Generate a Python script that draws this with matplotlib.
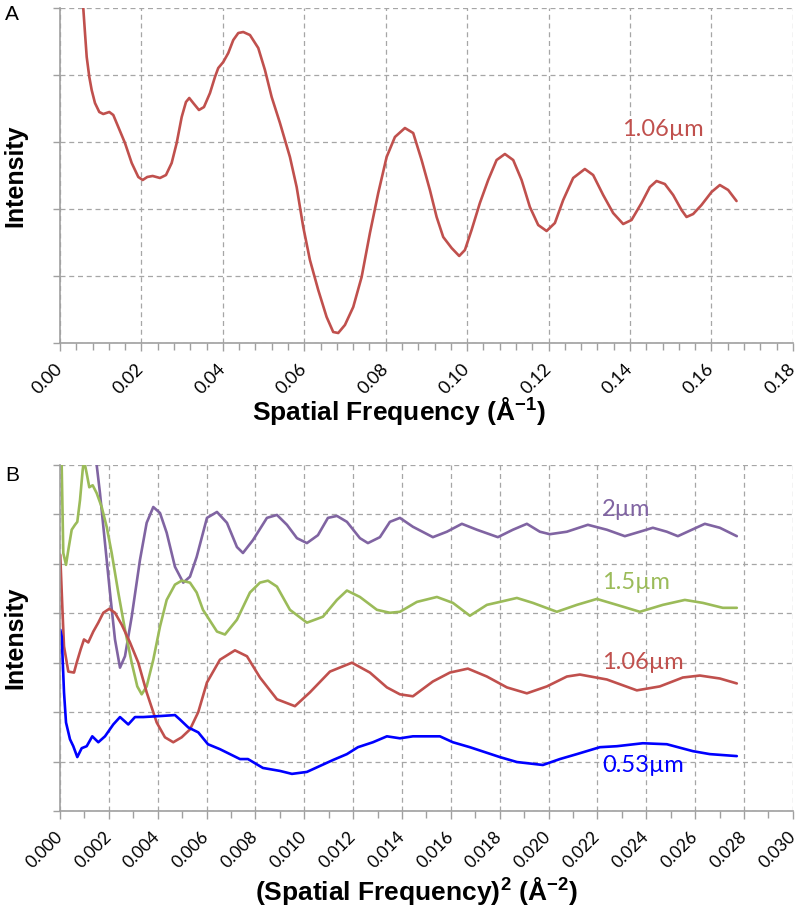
import matplotlib
matplotlib.use("Agg")
import matplotlib.pyplot as plt
from matplotlib import ticker

plt.rcParams["mathtext.fontset"] = "custom"
plt.rcParams["mathtext.rm"] = "Liberation Sans"
plt.rcParams["mathtext.bf"] = "Liberation Sans:bold"

# Panel A: 1.06 um, intensity vs spatial frequency (1/A), grid units 0..5
a_x = [0.0056, 0.00572, 0.00614, 0.00656, 0.00720, 0.00778, 0.00859, 0.00965, 0.01063,
       0.01211, 0.01309, 0.01432, 0.01596, 0.01761, 0.01923, 0.02031, 0.02144, 0.02276,
       0.02456, 0.02603, 0.02743, 0.02866, 0.02989, 0.03094, 0.03175, 0.03273, 0.03413,
       0.03536, 0.03684, 0.03806, 0.03887, 0.04010, 0.04133, 0.04256, 0.04379, 0.04501,
       0.04666, 0.04870, 0.05034, 0.05199, 0.05403, 0.05648, 0.05813, 0.05975, 0.06139,
       0.06343, 0.06549, 0.06711, 0.06834, 0.06999, 0.07203, 0.07409, 0.07613, 0.07817,
       0.08023, 0.08227, 0.08472, 0.08676, 0.08882, 0.09086, 0.09251, 0.09413, 0.09619,
       0.09806, 0.09946, 0.10110, 0.10314, 0.10518, 0.10724, 0.10928, 0.11132, 0.11338,
       0.11542, 0.11746, 0.11952, 0.12156, 0.12360, 0.12605, 0.12892, 0.13096, 0.13342,
       0.13587, 0.13833, 0.14039, 0.14285, 0.14489, 0.14653, 0.14857, 0.15061, 0.15267,
       0.15390, 0.15552, 0.15758, 0.16004, 0.16208, 0.16412, 0.16618]
a_y = [5.2, 4.996, 4.627, 4.269, 3.970, 3.776, 3.582, 3.448, 3.418,
       3.448, 3.403, 3.224, 2.985, 2.687, 2.478, 2.433, 2.478, 2.493,
       2.463, 2.507, 2.687, 2.985, 3.373, 3.597, 3.657, 3.582, 3.478,
       3.522, 3.731, 3.970, 4.104, 4.194, 4.328, 4.522, 4.627, 4.642,
       4.597, 4.403, 4.075, 3.672, 3.284, 2.776, 2.328, 1.731, 1.239,
       0.791, 0.388, 0.164, 0.149, 0.269, 0.537, 0.985, 1.642, 2.239,
       2.776, 3.075, 3.209, 3.134, 2.731, 2.284, 1.881, 1.582, 1.418,
       1.299, 1.388, 1.687, 2.090, 2.433, 2.731, 2.821, 2.731, 2.433,
       2.030, 1.761, 1.672, 1.791, 2.134, 2.463, 2.597, 2.507, 2.209,
       1.940, 1.776, 1.836, 2.090, 2.328, 2.418, 2.373, 2.209, 1.985,
       1.881, 1.925, 2.060, 2.254, 2.358, 2.284, 2.119]

# Panel B: intensity vs squared spatial frequency (1/A^2), grid units 0..7
p_x = [0.001432, 0.001502, 0.001637, 0.001842, 0.002046, 0.002251, 0.002456, 0.00266,
       0.002935, 0.003274, 0.003548, 0.003819, 0.004093, 0.004367, 0.004707, 0.005046,
       0.005321, 0.005595, 0.006016, 0.006426, 0.006835, 0.007244, 0.00749, 0.007899,
       0.008472, 0.008881, 0.009291, 0.0097, 0.010109, 0.010559, 0.010969, 0.011337,
       0.011746, 0.012278, 0.012606, 0.013097, 0.013506, 0.013916, 0.014448, 0.015266,
       0.015839, 0.016453, 0.017067, 0.017926, 0.01854, 0.019113, 0.019645, 0.020055,
       0.020751, 0.02161, 0.022388, 0.023124, 0.023738, 0.02427, 0.024843, 0.025294,
       0.025867, 0.026399, 0.027013, 0.027708]
p_y = [7.5, 7.0, 6.43, 5.42, 4.42, 3.47, 2.90, 3.13,
       3.93, 5.08, 5.83, 6.15, 6.03, 5.63, 4.94, 4.62,
       4.74, 5.14, 5.93, 6.05, 5.83, 5.34, 5.22, 5.48,
       5.93, 5.99, 5.79, 5.52, 5.42, 5.58, 5.93, 5.97,
       5.85, 5.52, 5.42, 5.54, 5.85, 5.93, 5.75, 5.54,
       5.65, 5.81, 5.69, 5.54, 5.69, 5.81, 5.65, 5.60,
       5.65, 5.79, 5.69, 5.56, 5.65, 5.73, 5.65, 5.56,
       5.69, 5.81, 5.73, 5.56]

g_x = [0.00001, 0.00007, 0.000135, 0.000246, 0.00034, 0.000479, 0.000614, 0.000708,
       0.000819, 0.000929, 0.000982, 0.001093, 0.001199, 0.001338, 0.001502, 0.001707,
       0.001911, 0.002116, 0.002386, 0.00266, 0.002935, 0.003164, 0.003344, 0.003548,
       0.003819, 0.004093, 0.004367, 0.004707, 0.004981, 0.005321, 0.005595, 0.005853,
       0.006426, 0.006753, 0.007244, 0.007776, 0.008186, 0.008513, 0.008881, 0.009413,
       0.010109, 0.010764, 0.011337, 0.011746, 0.012278, 0.012974, 0.013506, 0.013916,
       0.014611, 0.01543, 0.016085, 0.01678, 0.017476, 0.018008, 0.018704, 0.019359,
       0.020341, 0.02116, 0.021978, 0.022797, 0.023738, 0.02468, 0.02558, 0.026317,
       0.027135, 0.027708]
g_y = [7.5, 6.96, 5.22, 4.98, 5.28, 5.69, 5.79, 5.85,
       6.29, 6.90, 7.10, 6.83, 6.55, 6.59, 6.43, 6.15,
       5.75, 5.22, 4.42, 3.67, 3.00, 2.52, 2.36, 2.52,
       3.06, 3.73, 4.27, 4.58, 4.66, 4.62, 4.42, 4.07,
       3.63, 3.57, 3.87, 4.42, 4.62, 4.66, 4.54, 4.07,
       3.81, 3.93, 4.27, 4.46, 4.33, 4.07, 4.01, 4.03,
       4.23, 4.33, 4.21, 3.95, 4.17, 4.23, 4.31, 4.21,
       4.03, 4.17, 4.29, 4.17, 4.03, 4.17, 4.27, 4.21,
       4.11, 4.11]

r_x = [0.00001, 0.0001, 0.000164, 0.00034, 0.000573, 0.000683, 0.000847, 0.000982,
       0.001158, 0.001363, 0.001568, 0.001772, 0.002018, 0.002251, 0.002525, 0.002865,
       0.003205, 0.003548, 0.003958, 0.004297, 0.004637, 0.004981, 0.005321, 0.00566,
       0.006016, 0.006548, 0.007162, 0.007654, 0.008186, 0.008881, 0.009618, 0.010232,
       0.011051, 0.011951, 0.012688, 0.013383, 0.013916, 0.014448, 0.015266, 0.015962,
       0.016699, 0.017476, 0.018295, 0.019113, 0.019932, 0.020751, 0.021283, 0.022388,
       0.023615, 0.024557, 0.025498, 0.026194, 0.027013, 0.027708]
r_y = [5.18, 4.07, 3.33, 2.82, 2.80, 3.00, 3.27, 3.47,
       3.41, 3.63, 3.81, 4.01, 4.09, 4.01, 3.77, 3.41,
       3.00, 2.40, 1.79, 1.49, 1.39, 1.49, 1.65, 2.00,
       2.60, 3.06, 3.25, 3.13, 2.70, 2.26, 2.12, 2.40,
       2.82, 3.00, 2.80, 2.50, 2.36, 2.32, 2.62, 2.80,
       2.88, 2.72, 2.50, 2.38, 2.52, 2.72, 2.76, 2.66,
       2.44, 2.52, 2.70, 2.74, 2.68, 2.58]

b_x = [0.00001, 0.00007, 0.000164, 0.000246, 0.000409, 0.000544, 0.000708, 0.000888,
       0.001093, 0.001322, 0.001568, 0.001842, 0.002181, 0.002456, 0.00266, 0.002795,
       0.00307, 0.003409, 0.004093, 0.004707, 0.004911, 0.005251, 0.00566, 0.006057,
       0.006548, 0.007367, 0.007694, 0.008308, 0.009004, 0.009495, 0.010109, 0.010641,
       0.011173, 0.011746, 0.012197, 0.01281, 0.013383, 0.013916, 0.014448, 0.015553,
       0.016085, 0.01678, 0.018008, 0.018704, 0.019768, 0.020464, 0.02116, 0.022101,
       0.022797, 0.023861, 0.024843, 0.025908, 0.026603, 0.027708]
b_y = [3.67, 3.53, 2.40, 1.79, 1.45, 1.31, 1.09, 1.27,
       1.31, 1.51, 1.39, 1.51, 1.75, 1.90, 1.81, 1.75,
       1.90, 1.90, 1.92, 1.94, 1.85, 1.69, 1.59, 1.35,
       1.25, 1.05, 1.05, 0.87, 0.81, 0.75, 0.79, 0.91,
       1.03, 1.15, 1.29, 1.39, 1.51, 1.47, 1.51, 1.51,
       1.39, 1.29, 1.09, 0.99, 0.93, 1.05, 1.15, 1.29,
       1.31, 1.37, 1.35, 1.21, 1.15, 1.11]

series_labels = ["2µm", "1.5µm", "1.06µm", "0.53µm"]
label_y = [6.09, 4.62, 3.0, 0.91]

red = "#C0504D"
purple = "#8064A2"
green = "#9BBB59"
blue = "#0000FF"
grid_c = "#A6A6A6"
spine_c = "#A0A0A0"
tick_font = "Lato"
title_font = "Liberation Sans"


def style_axes(ax, tick_size, pad):
    ax.spines["top"].set_visible(False)
    ax.spines["right"].set_visible(False)
    ax.spines["left"].set_color(spine_c)
    ax.spines["bottom"].set_color(spine_c)
    ax.spines["left"].set_linewidth(1.2)
    ax.spines["bottom"].set_linewidth(1.2)
    ax.grid(True, which="major", color=grid_c, ls=(0, (4, 3)), lw=0.9)
    ax.set_axisbelow(True)
    ax.yaxis.set_major_formatter(ticker.NullFormatter())
    ax.tick_params(axis="both", which="both", color=spine_c, width=1.0)
    ax.tick_params(axis="y", which="major", length=5, direction="out")
    ax.tick_params(axis="x", which="major", length=6, direction="out", pad=pad)
    ax.tick_params(axis="x", which="minor", length=5, direction="out")
    for lab in ax.get_xticklabels():
        lab.set_rotation(45)
        lab.set_ha("right")
        lab.set_va("center")
        lab.set_rotation_mode("anchor")
        lab.set_fontsize(tick_size)
        lab.set_family(tick_font)


fig = plt.figure(figsize=(8, 9.23), dpi=100)

# ---- Panel A ----
ax1 = fig.add_axes([0.075, 0.6284, 0.916, 0.3629])
ax1.plot(a_x, a_y, color=red, lw=1.9, solid_joinstyle="round", solid_capstyle="round")
ax1.set_xlim(0, 0.18)
ax1.set_ylim(0, 5)
ax1.xaxis.set_major_locator(ticker.MultipleLocator(0.02))
ax1.xaxis.set_minor_locator(ticker.MultipleLocator(0.004))
ax1.yaxis.set_major_locator(ticker.MultipleLocator(1))
ax1.xaxis.set_major_formatter(ticker.FormatStrFormatter("%.2f"))
style_axes(ax1, 13, 11)
ax1.set_ylabel("Intensity", fontsize=18, fontweight="bold", family=title_font)
ax1.yaxis.set_label_coords(-0.044, 0.5)
ax1.set_xlabel(r"Spatial Frequency (Å$^{\mathbf{-1}}$)", fontsize=19, fontweight="bold",
               family=title_font)
ax1.xaxis.set_label_coords(0.4625, -0.155)
ax1.text(0.138, 3.18, "1.06µm", color=red, fontsize=17, family=tick_font, ha="left", va="center")
fig.text(0.006, 0.984, "A", fontsize=15, family=title_font, va="center")

# ---- Panel B ----
ax2 = fig.add_axes([0.075, 0.1214, 0.916, 0.3748])
for xs, ys, c in [(p_x, p_y, purple), (g_x, g_y, green), (r_x, r_y, red), (b_x, b_y, blue)]:
    ax2.plot(xs, ys, color=c, lw=1.9, solid_joinstyle="round", solid_capstyle="round")
ax2.set_xlim(0, 0.030)
ax2.set_ylim(0, 7)
ax2.xaxis.set_major_locator(ticker.MultipleLocator(0.002))
ax2.xaxis.set_minor_locator(ticker.MultipleLocator(0.001))
ax2.yaxis.set_major_locator(ticker.MultipleLocator(1))
ax2.xaxis.set_major_formatter(ticker.FormatStrFormatter("%.3f"))
style_axes(ax2, 12.5, 11)
ax2.set_ylabel("Intensity", fontsize=18, fontweight="bold", family=title_font)
ax2.yaxis.set_label_coords(-0.044, 0.5)
ax2.set_xlabel(r"(Spatial Frequency)$^{\mathbf{2}}$ (Å$^{\mathbf{-2}}$)", fontsize=19,
               fontweight="bold", family=title_font)
ax2.xaxis.set_label_coords(0.487, -0.185)
for txt, ly, c in zip(series_labels, label_y, [purple, green, red, blue]):
    ax2.text(0.0222, ly, txt, color=c, fontsize=17, family=tick_font, ha="left", va="center")
fig.text(0.006, 0.4845, "B", fontsize=15, family=title_font, va="center")

fig.savefig("out.png", dpi=100)
plt.close(fig)
